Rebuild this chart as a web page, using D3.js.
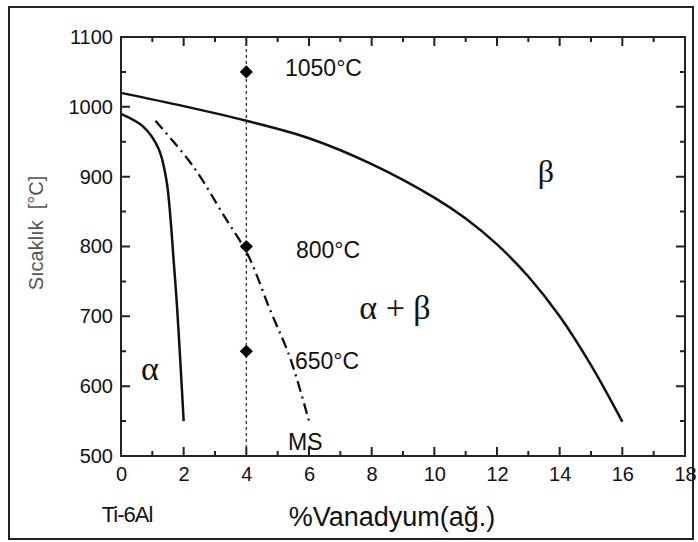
<!DOCTYPE html>
<html>
<head>
<meta charset="utf-8">
<script src="https://cdn.jsdelivr.net/npm/d3@7"></script>
<style>
  body { margin: 0; background: #fff; }
  svg { display: block; }
  .tick text { font-family: "Liberation Sans", Arial, sans-serif; fill: #111; }
</style>
</head>
<body>
<svg width="698" height="542"></svg>
<script>
// Ti-6Al-xV phase diagram data
var xTicks = [0, 2, 4, 6, 8, 10, 12, 14, 16, 18];
var yTicks = [500, 600, 700, 800, 900, 1000, 1100];

// beta transus
var betaLine = [[0, 1020], [2, 1001], [4, 980], [6, 955], [8, 918], [10, 870],
  [11, 840], [12, 803], [13, 757], [14, 700], [15, 630], [16, 549]];
// alpha / alpha+beta boundary
var alphaLine = [[0, 990], [0.7, 972], [1.2, 940], [1.45, 895], [1.58, 840],
  [1.68, 780], [1.78, 720], [1.9, 630], [2.0, 550]];
// martensite start (MS)
var msLine = [[1.1, 980], [2.3, 915], [3.3, 843], [4.05, 788], [4.76, 709],
  [5.4, 640], [6.0, 550]];

var vanadium = 4;
var treatTemps = [1050, 800, 650];
var treatLabels = ['1050°C', '800°C', '650°C'];

var svg = d3.select('svg');

// outer frame
svg.append('rect')
  .attr('x', 9).attr('y', 7)
  .attr('width', 684).attr('height', 532)
  .attr('fill', 'none')
  .attr('stroke', '#222')
  .attr('stroke-width', 2);

var box = {l: 121, r: 685, t: 37, b: 456};

var x = d3.scaleLinear().domain([0, 18]).range([box.l, box.r]);
var y = d3.scaleLinear().domain([500, 1100]).range([box.b, box.t]);

var minorX = d3.range(1, 18, 2);
var minorY = d3.range(550, 1100, 100);

// tick labels from the axes (tick lines drawn separately below)
svg.append('g')
  .attr('transform', 'translate(0,' + box.b + ')')
  .call(d3.axisBottom(x).tickValues(xTicks).tickSize(0).tickPadding(11).tickFormat(d3.format('d')))
  .call(g => g.selectAll('text').style('font-size', '20px'));

svg.append('g')
  .attr('transform', 'translate(' + box.l + ',0)')
  .call(d3.axisLeft(y).tickValues(yTicks).tickSize(0).tickPadding(8).tickFormat(d3.format('d')))
  .call(g => g.selectAll('text').style('font-size', '20px'));

svg.selectAll('.domain').remove();

// inward tick marks on all four sides, as short paths
var tickPath = d3.path();
function xTickMarks(vals, len) {
  vals.forEach(function(d) {
    tickPath.moveTo(x(d), box.b); tickPath.lineTo(x(d), box.b - len);
    tickPath.moveTo(x(d), box.t); tickPath.lineTo(x(d), box.t + len);
  });
}
function yTickMarks(vals, len) {
  vals.forEach(function(d) {
    tickPath.moveTo(box.l, y(d)); tickPath.lineTo(box.l + len, y(d));
    tickPath.moveTo(box.r, y(d)); tickPath.lineTo(box.r - len, y(d));
  });
}
xTickMarks(xTicks, 9);
xTickMarks(minorX, 5);
yTickMarks(yTicks, 9);
yTickMarks(minorY, 5);
svg.append('path')
  .attr('d', tickPath.toString())
  .attr('fill', 'none')
  .attr('stroke', '#222')
  .attr('stroke-width', 2);

// plot box
svg.append('rect')
  .attr('x', box.l).attr('y', box.t)
  .attr('width', box.r - box.l).attr('height', box.b - box.t)
  .attr('fill', 'none')
  .attr('stroke', '#222')
  .attr('stroke-width', 2);

// vertical dashed line at 4 % V
svg.append('line')
  .attr('x1', x(vanadium)).attr('x2', x(vanadium))
  .attr('y1', y(1100)).attr('y2', y(500))
  .attr('stroke', '#333')
  .attr('stroke-width', 1.3)
  .attr('stroke-dasharray', '3,3');

var line = d3.line()
  .x(d => x(d[0]))
  .y(d => y(d[1]))
  .curve(d3.curveCatmullRom.alpha(0.5));

svg.append('path')
  .attr('d', line(betaLine))
  .attr('fill', 'none').attr('stroke', '#111').attr('stroke-width', 2.5);

svg.append('path')
  .attr('d', line(alphaLine))
  .attr('fill', 'none').attr('stroke', '#111').attr('stroke-width', 2.5);

svg.append('path')
  .attr('d', line(msLine))
  .attr('fill', 'none').attr('stroke', '#111').attr('stroke-width', 2.3)
  .attr('stroke-dasharray', '11,5,2,5');

// heat treatment points
svg.selectAll('.pt')
  .data(treatTemps)
  .enter()
  .append('path')
  .attr('class', 'pt')
  .attr('d', d3.symbol(d3.symbolDiamond2, 110))
  .attr('transform', d => 'translate(' + x(vanadium) + ',' + y(d) + ')')
  .attr('fill', '#000');

var labelPos = [[285, 76], [296, 258], [295, 369]];
svg.selectAll('.tlabel')
  .data(treatLabels)
  .enter()
  .append('text')
  .attr('class', 'tlabel')
  .attr('x', (d, i) => labelPos[i][0])
  .attr('y', (d, i) => labelPos[i][1])
  .text(d => d)
  .style('font-family', '"Liberation Sans", Arial, sans-serif')
  .style('font-size', '23px')
  .style('fill', '#111');

// phase labels
function phase(txt, px, py, size) {
  svg.append('text')
    .attr('x', px).attr('y', py)
    .attr('text-anchor', 'middle')
    .text(txt)
    .style('font-family', '"Liberation Serif", "Times New Roman", serif')
    .style('font-size', size + 'px')
    .style('fill', '#111');
}
phase('β', 546, 182, 32);
phase('α + β', 395, 319, 34);
phase('α', 150, 380, 34);

svg.append('text')
  .attr('x', 288).attr('y', 450)
  .text('MS')
  .style('font-family', '"Liberation Sans", Arial, sans-serif')
  .style('font-size', '23px')
  .style('fill', '#111');

// axis titles
svg.append('text')
  .attr('x', 127).attr('y', 522)
  .attr('text-anchor', 'middle')
  .text('Ti-6Al')
  .style('font-family', '"Liberation Sans", Arial, sans-serif')
  .style('font-size', '22px')
  .style('letter-spacing', '-1px')
  .style('fill', '#111');

svg.append('text')
  .attr('x', 392).attr('y', 526)
  .attr('text-anchor', 'middle')
  .text('%Vanadyum(ağ.)')
  .style('font-family', '"Liberation Sans", Arial, sans-serif')
  .style('font-size', '27px')
  .style('fill', '#111');

svg.append('text')
  .attr('transform', 'translate(43,233) rotate(-90)')
  .attr('text-anchor', 'middle')
  .attr('xml:space', 'preserve')
  .text('Sıcaklık  [°C]')
  .style('font-family', '"Liberation Sans", Arial, sans-serif')
  .style('font-size', '20px')
  .style('fill', '#555');
</script>
</body>
</html>
